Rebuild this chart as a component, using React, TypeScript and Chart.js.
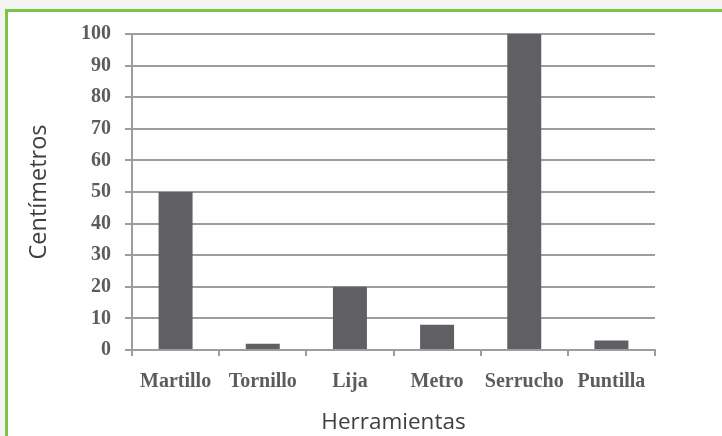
import React, { useEffect, useRef } from "react";
import { Chart, registerables } from "chart.js";

Chart.register(...registerables);

const categories = ["Martillo", "Tornillo", "Lija", "Metro", "Serrucho", "Puntilla"];
const values = [50, 2, 20, 8, 100, 3];
const yTicks = [0, 10, 20, 30, 40, 50, 60, 70, 80, 90, 100];
const yTitle = "Centímetros";
const xTitle = "Herramientas";

export default function App() {
  const ref = useRef<HTMLCanvasElement | null>(null);

  useEffect(() => {
    if (!ref.current) return;
    const gridColor = "#9d9d9f";
    const tickFont = { family: "'Liberation Serif', serif", size: 20, weight: "bold" as const };
    const chart = new Chart(ref.current, {
      type: "bar",
      data: {
        labels: categories,
        datasets: [
          {
            data: values,
            backgroundColor: "#606064",
            borderWidth: 0,
            barPercentage: 0.39,
            categoryPercentage: 1,
          },
        ],
      },
      options: {
        animation: false,
        responsive: false,
        maintainAspectRatio: false,
        layout: { padding: { left: 0, right: 67, top: 34, bottom: 0 } },
        plugins: { legend: { display: false }, tooltip: { enabled: false } },
        scales: {
          x: {
            afterFit: (s: any) => {
              s.height = 86;
            },
            grid: {
              display: true,
              drawOnChartArea: false,
              drawTicks: true,
              tickLength: 6,
              color: gridColor,
              lineWidth: 2,
            },
            border: { display: true, color: gridColor, width: 2 },
            ticks: { font: tickFont, color: "#5c5c5c", padding: 14, maxRotation: 0 },
            title: {
              display: true,
              text: xTitle,
              font: { family: "'Open Sans', sans-serif", size: 22.5 },
              color: "#3f3f3f",
              padding: { top: 0, bottom: 0 },
            },
          },
          y: {
            min: 0,
            max: 100,
            afterFit: (s: any) => {
              s.width = 132;
            },
            afterBuildTicks: (s: any) => {
              s.ticks = yTicks.map((v) => ({ value: v }));
            },
            grid: {
              color: gridColor,
              lineWidth: 2,
              drawTicks: true,
              tickLength: 7,
            },
            border: { display: true, color: gridColor, width: 2 },
            ticks: { font: tickFont, color: "#5c5c5c", padding: 14, stepSize: 10 },
            title: {
              display: true,
              text: yTitle,
              font: { family: "'Open Sans', sans-serif", size: 23.5 },
              color: "#3f3f3f",
              padding: { top: 25, bottom: 0 },
            },
          },
        },
      },
    });
    return () => chart.destroy();
  }, []);

  return (
    <div
      style={{
        position: "fixed",
        left: 0,
        top: 0,
        width: 722,
        height: 436,
        background: "#f3f3f3",
        overflow: "hidden",
      }}
    >
      <div
        style={{
          position: "absolute",
          left: 5,
          top: 9,
          width: 740,
          height: 460,
          border: "3px solid #7cc444",
          background: "#ffffff",
        }}
      />
      <canvas
        ref={ref}
        width={722}
        height={436}
        style={{ position: "absolute", left: 0, top: 0, width: 722, height: 436 }}
      />
    </div>
  );
}
